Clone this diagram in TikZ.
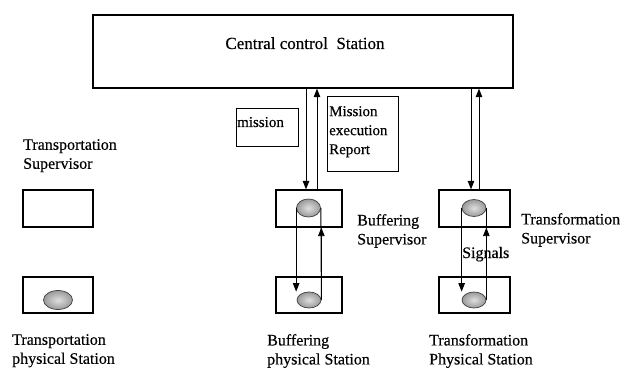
\documentclass[tikz,border=0pt]{standalone}
\usepackage{fontspec}
\setmainfont{Liberation Serif}[FakeBold=0.35]
\usetikzlibrary{arrows.meta,shapes.geometric}
\begin{document}
\begin{tikzpicture}[x=1pt,y=-1pt,
  box/.style={draw, line width=1.3pt, rectangle, inner sep=0pt},
  disc/.style={ellipse, draw=black!75, line width=0.7pt, inner sep=0pt,
    inner color=gray!25, outer color=gray!80},
  arr/.style={line width=0.9pt, -{Triangle[length=8.5pt,width=6.5pt]}},
  belt/.style={line width=0.9pt},
  lbl/.style={font=\fontsize{16}{19}\selectfont, align=left, inner sep=0pt},
  boxtext/.style={font=\fontsize{15}{19}\selectfont, align=left, inner sep=0pt}
]
\useasboundingbox (0,0) rectangle (638,369);

% control level
\node[box, minimum width=420pt, minimum height=73pt] (ccs) at (303,51.5) {};
\node[font=\fontsize{17}{20}\selectfont, inner sep=0pt, anchor=base] (ccslbl) at (305,49) {Central control\ \ Station};

\node[box, line width=1pt, minimum width=62pt, minimum height=37pt] (missionbox) at (267,127.5) {};
\node[boxtext, anchor=base west] (missionlbl) at (237,127) {mission};
\node[box, line width=1pt, minimum width=71pt, minimum height=74pt] (reportbox) at (362.5,134) {};
\node[boxtext, anchor=north west] (reportlbl) at (329,106) {Mission\\execution\\Report};

% supervisors and physical stations
\node[box, minimum width=70pt, minimum height=37pt] (tsup) at (58,208.5) {};
\node[box, minimum width=70pt, minimum height=36pt] (tphys) at (58,295) {};
\node[box, minimum width=66pt, minimum height=37pt] (bsup) at (309,208.5) {};
\node[box, minimum width=66pt, minimum height=36pt] (bphys) at (309,295) {};
\node[box, minimum width=71pt, minimum height=37pt] (fsup) at (474.5,208.5) {};
\node[box, minimum width=71pt, minimum height=36pt] (fphys) at (474.5,295) {};

% discs
\node[disc, minimum width=29pt, minimum height=19pt] (tpell) at (58,300) {};
\node[disc, minimum width=24pt, minimum height=18pt] (bsell) at (308.5,208) {};
\node[disc, minimum width=24pt, minimum height=16pt] (bpell) at (309,300) {};
\node[disc, minimum width=24pt, minimum height=17pt] (fsell) at (474,208) {};
\node[disc, minimum width=24pt, minimum height=16pt] (fpell) at (474,300) {};

% labels
\node[lbl, anchor=north west] (tsuplbl) at (23,139) {Transportation\\Supervisor};
\node[lbl, anchor=north west] (tphyslbl) at (12,334) {Transportation\\physical Station};
\node[lbl, anchor=north west] (bsuplbl) at (357,214) {Buffering\\Supervisor};
\node[lbl, anchor=north west] (bphyslbl) at (267,334) {Buffering\\physical Station};
\node[lbl, anchor=north west] (fsuplbl) at (521,213) {Transformation\\Supervisor};
\node[lbl, anchor=north west] (fphyslbl) at (429,334) {Transformation\\Physical Station};
\node[lbl, anchor=base west] (signals) at (462,258) {Signals};

% mission / report links with the control station
\coordinate (bdn) at ([xshift=-3pt]bsup.north);
\coordinate (bup) at ([xshift=8pt]bsup.north);
\coordinate (fdn) at ([xshift=-3.5pt]fsup.north);
\coordinate (fup) at ([xshift=4.5pt]fsup.north);
\draw[arr] (bdn |- ccs.south) -- (bdn);
\draw[arr] (bup) -- (bup |- ccs.south);
\draw[arr] (fdn |- ccs.south) -- (fdn);
\draw[arr] (fup) -- (fup |- ccs.south);

% signal loops between supervisor and physical station
\draw[arr] (bsell.west) -- (bsell.west |- bpell.north);
\draw[belt] (bpell.east) -- (bsell.east);
\draw[arr] (bpell.east) -- (bpell.east |- bsup.south);
\draw[arr] (fsell.west) -- (fsell.west |- fpell.north);
\draw[belt] (fpell.east) -- (fsell.east);
\draw[arr] (fpell.east) -- (fpell.east |- fsup.south);
\end{tikzpicture}
\end{document}
